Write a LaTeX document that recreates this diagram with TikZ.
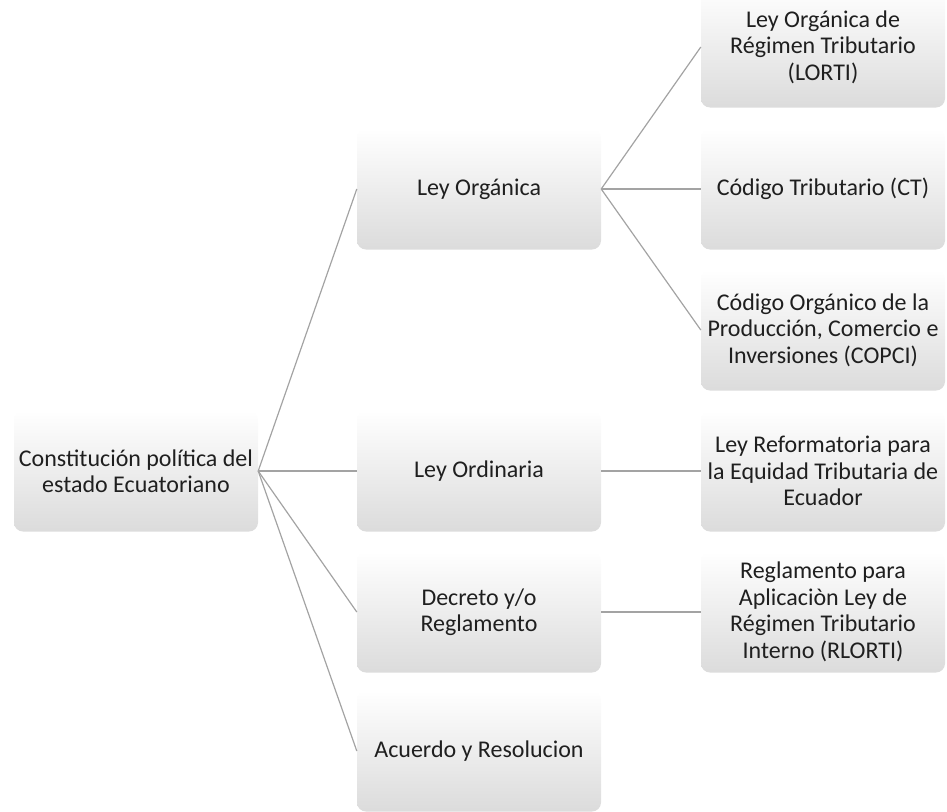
\documentclass[tikz,border=0pt]{standalone}
\usepackage{fontspec}
\setmainfont{Carlito}
\begin{document}
\begin{tikzpicture}[x=1pt,y=-1pt,
  box/.style={rectangle, rounded corners=9pt, minimum width=244pt, minimum height=121pt,
    top color=white, middle color=white, bottom color=black!14, draw=none,
    text=black!88, align=center, font=\fontsize{24}{26.5}\selectfont, inner sep=2pt},
  link/.style={draw=black!36, line width=1.2pt}]
\useasboundingbox (0,0) rectangle (947,811);
\node[box] (root) at (136,471) {Constitución política del\\estado Ecuatoriano};
\node[box] (lo) at (479,189) {Ley Orgánica};
\node[box] (lord) at (479,471) {Ley Ordinaria};
\node[box] (dec) at (479,612) {Decreto y/o\\Reglamento};
\node[box] (acu) at (479,751) {Acuerdo y Resolucion};
\node[box] (lorti) at (823,47) {Ley Orgánica de\\Régimen Tributario\\(LORTI)};
\node[box] (ct) at (823,189) {Código Tributario (CT)};
\node[box] (copci) at (823,330) {Código Orgánico de la\\Producción, Comercio e\\Inversiones (COPCI)};
\node[box] (ref) at (823,471) {Ley Reformatoria para\\la Equidad Tributaria de\\Ecuador};
\node[box] (rlorti) at (823,612) {Reglamento para\\Aplicaciòn Ley de\\Régimen Tributario\\Interno (RLORTI)};
\foreach \t in {lo,lord,dec,acu} \draw[link] (root.east) -- (\t.west);
\foreach \t in {lorti,ct,copci} \draw[link] (lo.east) -- (\t.west);
\draw[link] (lord.east) -- (ref.west);
\draw[link] (dec.east) -- (rlorti.west);
\end{tikzpicture}
\end{document}
